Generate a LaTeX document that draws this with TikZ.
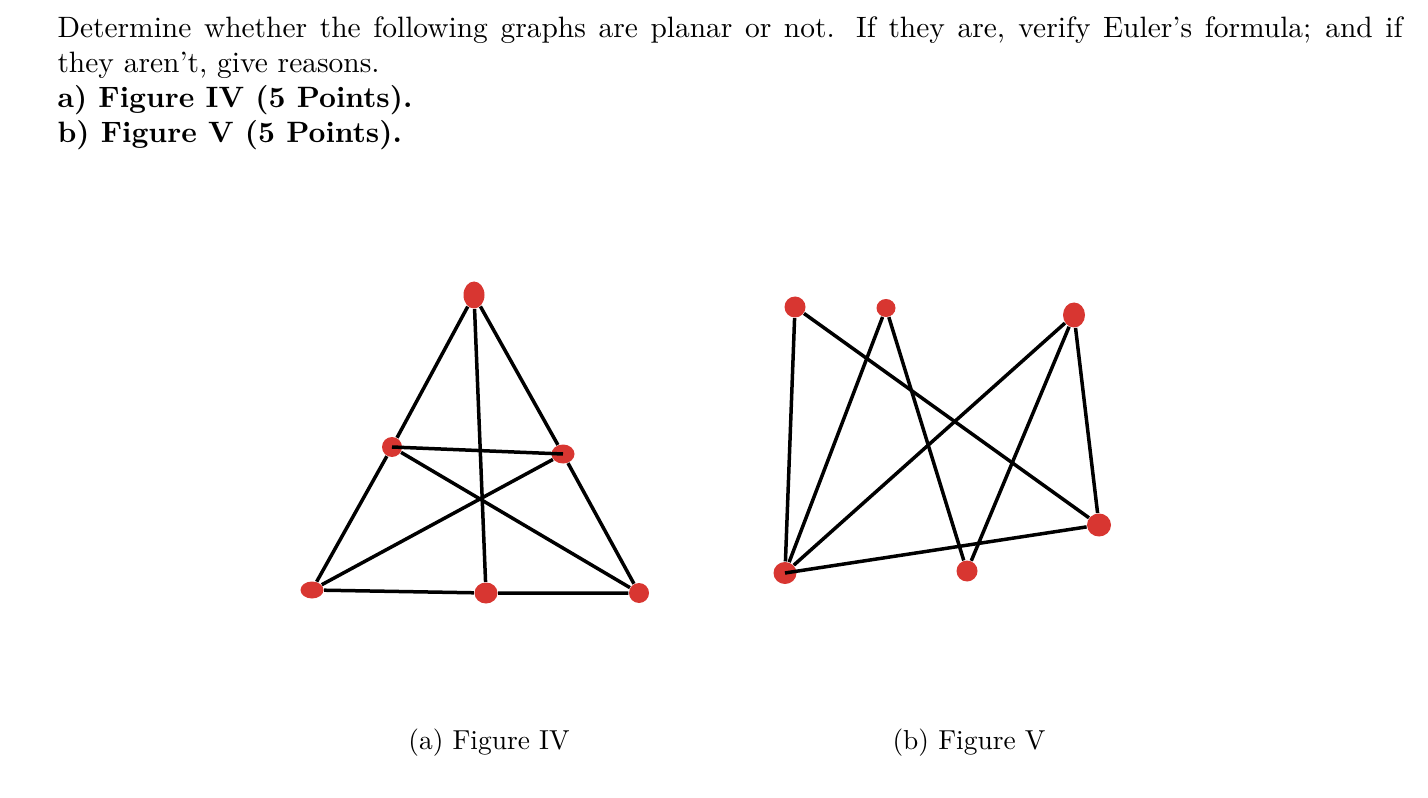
\documentclass[tikz,border=0pt]{standalone}
\usepackage{tikz}
\usetikzlibrary{shapes.geometric}
\definecolor{dotred}{RGB}{216,54,49}
\newlength\pxu
\setlength\pxu{0.3717pt}

\begin{document}
\begin{tikzpicture}
        [x=\pxu, y=-\pxu,
        vtx/.style={ellipse, fill=dotred, inner sep=0pt, minimum width=20*\pxu, minimum height=20*\pxu},
        lato/.style={line width=1.3pt, black}]
        \useasboundingbox (0,0) rectangle (1428,798);
        %testo
            \node[anchor=base west, inner sep=0pt, text width=500pt, align=justify,
                font=\fontsize{10.95}{13}\selectfont] (testo) at (57,37.5)
            {\noindent Determine whether the following graphs are planar or not. If they are, verify Euler's formula; and if\linebreak
            they aren't, give reasons.\\
            \textbf{a) Figure IV (5 Points).}\\
            \textbf{b) Figure V (5 Points).}};
        %nodi figura IV
            \node[vtx, minimum width=21*\pxu, minimum height=27*\pxu] (top) at (474,295) {};
            \node[vtx] (ml) at (392,447) {};
            \node[vtx, minimum width=23*\pxu, minimum height=19*\pxu] (mr) at (563,454) {};
            \node[vtx, minimum width=23*\pxu, minimum height=17*\pxu] (bl) at (312,590) {};
            \node[vtx, minimum width=23*\pxu, minimum height=21*\pxu] (bm) at (486,593) {};
            \node[vtx] (br) at (639,593) {};
        %lati figura IV
            \draw[lato] (top)--(ml) (top)--(mr) (top)--(bm);
            \draw[lato] (ml)--(bl) (mr)--(br) (bl)--(bm) (bm)--(br);
            \draw[lato] (ml)--(br) (mr)--(bl);
            \draw[lato] (ml.center)--(mr.center);
        %nodi figura V
            \node[vtx, minimum width=21*\pxu, minimum height=21*\pxu] (a) at (795,307) {};
            \node[vtx, minimum width=19*\pxu, minimum height=18*\pxu] (b) at (886,308) {};
            \node[vtx, minimum width=22*\pxu, minimum height=25*\pxu] (c) at (1074,315) {};
            \node[vtx, minimum width=24*\pxu, minimum height=23*\pxu] (d) at (1099,525) {};
            \node[vtx, minimum width=21*\pxu, minimum height=21*\pxu] (e) at (967,571) {};
            \node[vtx, minimum width=23*\pxu, minimum height=22*\pxu] (f) at (785,573) {};
        %lati figura V
            \draw[lato] (a)--(f) (a)--(d);
            \draw[lato] (b)--(f) (b)--(e);
            \draw[lato] (c)--(f) (c)--(e) (c)--(d);
            \draw[lato] (f.center)--(d);
        %didascalie
            \node[anchor=base, font=\fontsize{10.2}{12}\selectfont] (capa) at (489,749) {(a) Figure IV};
            \node[anchor=base, font=\fontsize{10.2}{12}\selectfont] (capb) at (969,749) {(b) Figure V};
    \end{tikzpicture}
\end{document}
